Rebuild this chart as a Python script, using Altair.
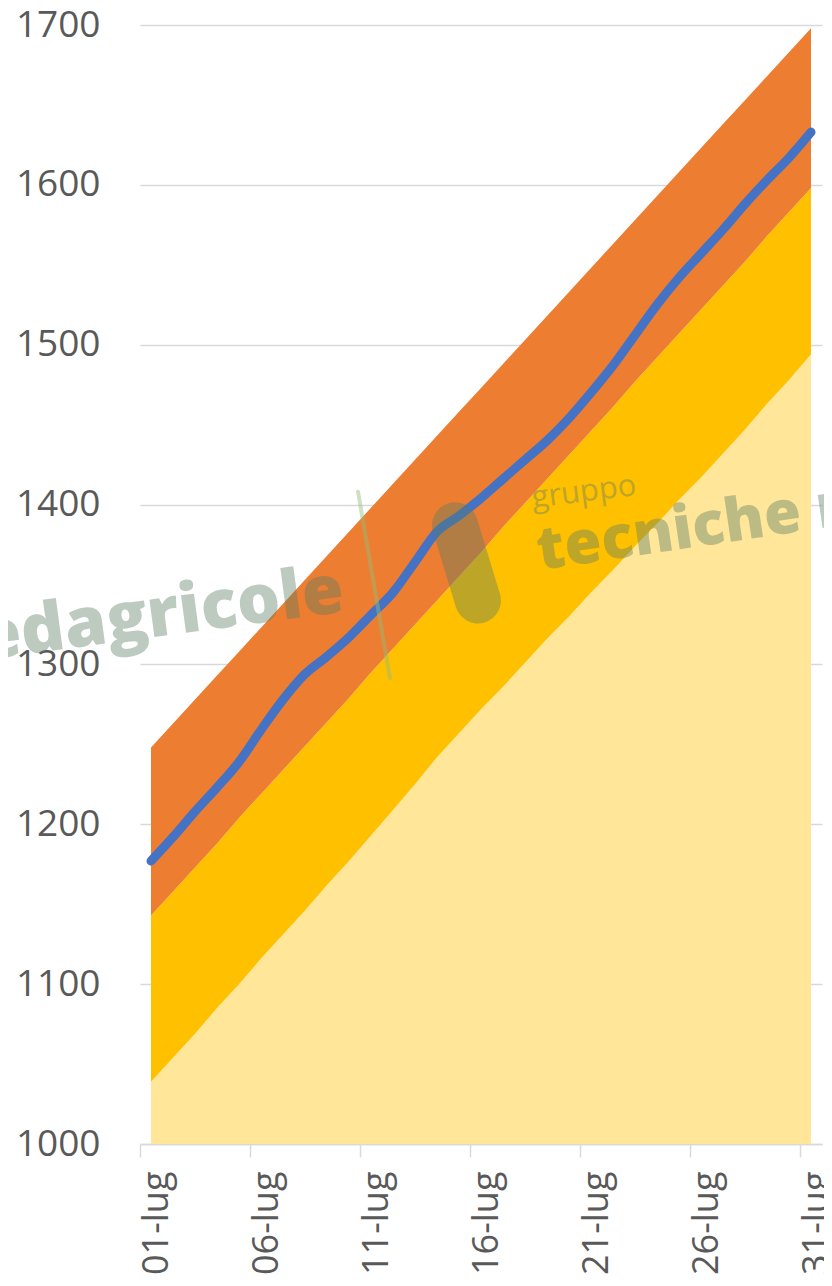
import altair as alt
import pandas as pd

# ---- data ----
days = list(range(1, 32))
light_top = [1039, 1054, 1069, 1085, 1100, 1116, 1131, 1146, 1162, 1177,
             1193, 1209, 1225, 1242, 1257, 1272, 1286, 1301, 1316, 1330,
             1345, 1359, 1374, 1388, 1403, 1417, 1432, 1447, 1463, 1478, 1494]
gold_top = [1143, 1158, 1173, 1188, 1204, 1219, 1234, 1249, 1264, 1279,
            1295, 1310, 1325, 1340, 1355, 1370, 1386, 1401, 1416, 1431,
            1446, 1461, 1477, 1492, 1507, 1522, 1537, 1552, 1568, 1583, 1598]
orange_top = [1248, 1263, 1278, 1293, 1308, 1323, 1338, 1353, 1368, 1383,
              1398, 1413, 1428, 1443, 1458, 1473, 1488, 1503, 1518, 1533,
              1548, 1563, 1578, 1593, 1608, 1623, 1638, 1653, 1668, 1683, 1698]
actual = [1177, 1192, 1208, 1223, 1239, 1259, 1278, 1294, 1305, 1317,
          1331, 1345, 1364, 1383, 1393, 1404, 1416, 1428, 1440, 1454,
          1470, 1487, 1506, 1525, 1542, 1557, 1572, 1588, 1603, 1617, 1633]

tick_days = [0.5, 5.5, 10.5, 15.5, 20.5, 25.5, 30.5]
tick_labels = ["01-lug", "06-lug", "11-lug", "16-lug", "21-lug", "26-lug", "31-lug"]
y_ticks = [1000, 1100, 1200, 1300, 1400, 1500, 1600, 1700]

# watermark (logo text) placed in data coordinates
wm_words = ["edagricole", "gruppo", "tecniche nuove"]
wm_day = [1.6, 18.36, 18.68]
wm_val = [1318, 1398, 1359]

df = pd.DataFrame({"day": days, "light": light_top, "gold": gold_top,
                   "orange": orange_top, "actual": actual})

FONT = "Open Sans"
GRID = "#d9d9d9"
TXT = "#595959"

x_scale = alt.Scale(domain=[0.5, 31.5], nice=False, zero=False)
y_scale = alt.Scale(domain=[1000, 1700], nice=False, zero=False)

label_expr = "[" + ",".join("'%s'" % t for t in tick_labels) + "][indexof([" + \
    ",".join(str(v) for v in tick_days) + "], datum.value)]"

x_axis = alt.Axis(values=tick_days, labelExpr=label_expr, labelAngle=270,
                  labelFont=FONT, labelFontSize=36, labelColor=TXT,
                  labelAlign="right", labelBaseline="middle",
                  labelOffset=16, labelPadding=14, labelFlush=False,
                  labelOverlap=False, tickColor=GRID, tickSize=13, tickWidth=1.5,
                  domainColor=GRID, domainWidth=1.5, grid=False, title=None)
y_axis = alt.Axis(values=y_ticks, format="d", labelFont=FONT, labelFontSize=37,
                  labelColor=TXT, labelPadding=40, ticks=False, domain=False,
                  grid=True, gridColor=GRID, gridWidth=1.5, title=None)

X = alt.X("day:Q", scale=x_scale, axis=x_axis)

base = alt.Chart(df)

light = base.mark_area(color="#FFE699").encode(
    x=X, y=alt.Y("light:Q", scale=y_scale, axis=y_axis), y2=alt.datum(1000))
gold = base.mark_area(color="#FFC000").encode(
    x=X, y=alt.Y("gold:Q", scale=y_scale, axis=y_axis), y2="light:Q")
orange = base.mark_area(color="#ED7D31").encode(
    x=X, y=alt.Y("orange:Q", scale=y_scale, axis=y_axis), y2="gold:Q")
line = base.mark_line(color="#4472C4", strokeWidth=9, strokeCap="round",
                      strokeJoin="round", interpolate="monotone").encode(
    x=X, y=alt.Y("actual:Q", scale=y_scale, axis=y_axis))

WM = "#5a7d64"
wm_df = pd.DataFrame({"day": wm_day, "val": wm_val, "word": wm_words})

wm1 = alt.Chart(wm_df.iloc[[0]]).mark_text(
    font=FONT, fontWeight=800, fontSize=68, angle=352.4, align="center",
    baseline="alphabetic", color=WM, opacity=0.4).encode(
    x=X, y=alt.Y("val:Q", scale=y_scale, axis=y_axis), text="word:N")
wm2 = alt.Chart(wm_df.iloc[[1]]).mark_text(
    font=FONT, fontSize=31, angle=353, align="left",
    baseline="alphabetic", color=WM, opacity=0.4).encode(
    x=X, y=alt.Y("val:Q", scale=y_scale, axis=y_axis), text="word:N")
wm3 = alt.Chart(wm_df.iloc[[2]]).mark_text(
    font=FONT, fontWeight=800, fontSize=60, angle=351.5, align="left",
    baseline="alphabetic", color=WM, opacity=0.4).encode(
    x=X, y=alt.Y("val:Q", scale=y_scale, axis=y_axis), text="word:N")

seg_df = pd.DataFrame({"day": [10.41, 14.82], "day2": [11.86, 15.86],
                       "val": [1408, 1387], "val2": [1291.5, 1340]})
sep = alt.Chart(seg_df.iloc[[0]]).mark_rule(
    color="#8fbf7a", strokeWidth=4, strokeCap="round", opacity=0.45).encode(
    x=X, x2="day2:Q", y=alt.Y("val:Q", scale=y_scale, axis=y_axis), y2="val2:Q")
blob = alt.Chart(seg_df.iloc[[1]]).mark_rule(
    color=WM, strokeWidth=46, strokeCap="round", opacity=0.4).encode(
    x=X, x2="day2:Q", y=alt.Y("val:Q", scale=y_scale, axis=y_axis), y2="val2:Q")

chart = alt.layer(light, gold, orange, line, wm1, sep, blob, wm2, wm3).properties(
    width=682, height=1119,
    autosize=alt.AutoSizeParams(type="none"),
    padding={"left": 132, "top": 17, "right": 2, "bottom": 130},
).configure_view(stroke=None)

chart.save("out.html", embed_options={"renderer": "svg", "actions": False})
